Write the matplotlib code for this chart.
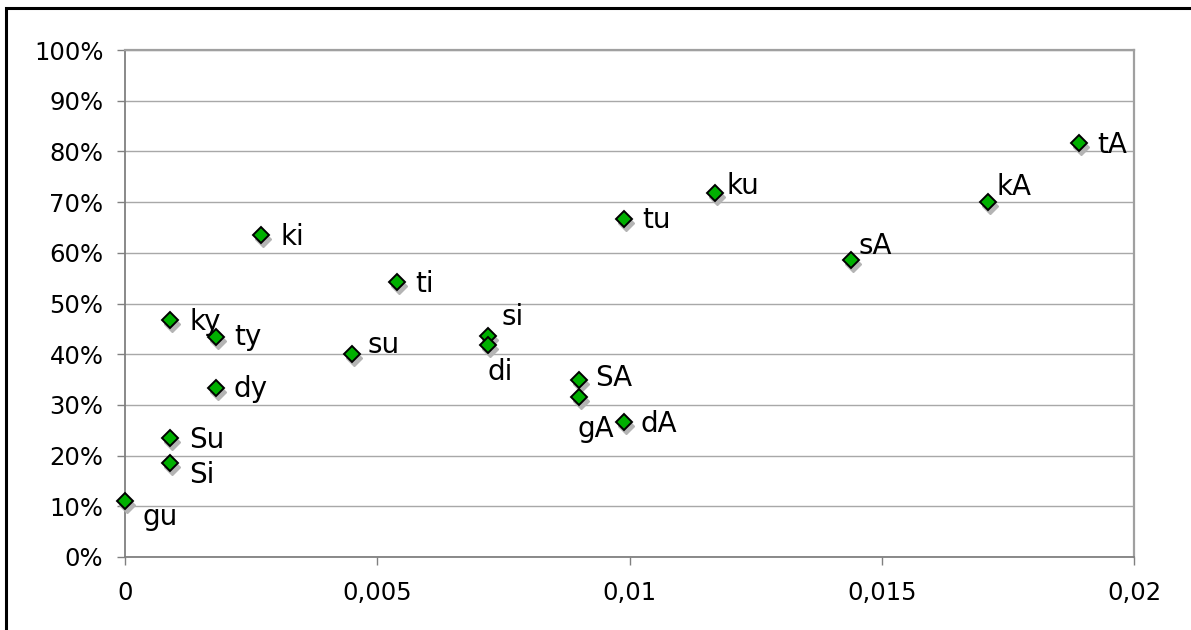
import matplotlib

matplotlib.use("Agg")
import matplotlib.pyplot as plt
from matplotlib.patches import Rectangle
from matplotlib.transforms import offset_copy

# values
labels = ["gu", "Si", "Su", "ky", "ty", "dy", "ki", "su", "ti", "si",
          "di", "SA", "gA", "dA", "tu", "ku", "sA", "kA", "tA"]
x_vals = [0.0, 0.0009, 0.0009, 0.0009, 0.0018, 0.0018, 0.0027, 0.0045,
          0.0054, 0.0072, 0.0072, 0.0090, 0.0090, 0.0099, 0.0099,
          0.0117, 0.0144, 0.0171, 0.0189]
y_vals = [11.0, 18.5, 23.5, 46.7, 43.4, 33.4, 63.5, 40.0, 54.3, 43.5,
          41.8, 35.0, 31.6, 26.7, 66.7, 71.7, 58.6, 70.1, 81.6]

x_ticks = [0, 0.005, 0.01, 0.015, 0.02]
x_tick_labels = ["0", "0,005", "0,01", "0,015", "0,02"]
y_ticks = list(range(0, 101, 10))
y_tick_labels = [f"{v}%" for v in y_ticks]

# label offsets from the marker in pixels (right, down)
label_offsets = {
    "gu": (18, 24), "Si": (19, 20), "Su": (19, 10), "ky": (19, 10),
    "ty": (18, 8), "dy": (18, 9), "ki": (19, 10), "su": (15, -1),
    "ti": (18, 10), "si": (13, -11), "di": (-1, 35), "SA": (16, 6),
    "gA": (-2, 40), "dA": (16, 10), "tu": (18, 9), "ku": (11, 1),
    "sA": (7, -6), "kA": (9, -7), "tA": (19, 10),
}

fig = plt.figure(figsize=(11.91, 6.30), dpi=100)
ax = fig.add_axes([125 / 1191, 1 - 557 / 630, (1134 - 125) / 1191, (557 - 50) / 630])

shadow = offset_copy(ax.transData, fig=fig, x=2, y=-4, units="dots")
ax.plot(x_vals, y_vals, linestyle="none", marker="D", markersize=8.5,
        color="#b4b4b4", markeredgecolor="#b4b4b4", transform=shadow,
        zorder=3, clip_on=False)
ax.plot(x_vals, y_vals, linestyle="none", marker="D", markersize=8.5,
        color="#00b000", markeredgecolor="black", markeredgewidth=1.4,
        zorder=4, clip_on=False)

for name, x, y in zip(labels, x_vals, y_vals):
    dx, dy = label_offsets[name]
    ax.annotate(name, (x, y), xytext=(dx, -dy), textcoords="offset pixels",
                ha="left", va="baseline", fontsize=20, color="black", zorder=5)

ax.set_xlim(0, 0.02)
ax.set_ylim(0, 100)
ax.set_xticks(x_ticks)
ax.set_xticklabels(x_tick_labels)
ax.set_yticks(y_ticks)
ax.set_yticklabels(y_tick_labels)
ax.tick_params(axis="both", direction="out", length=5.5, width=1,
               color="#808080", labelsize=17.5, labelcolor="black")
ax.tick_params(axis="x", pad=12)
ax.tick_params(axis="y", pad=10)

ax.yaxis.grid(True, color="#a8a8a8", linewidth=1.0)
ax.set_axisbelow(True)
for side in ["left", "bottom"]:
    ax.spines[side].set_color("#808080")
    ax.spines[side].set_linewidth(1.3)
for side in ["top", "right"]:
    ax.spines[side].set_color("#a0a0a0")
    ax.spines[side].set_linewidth(1.6)

# outer chart frame
fig.patches.append(Rectangle((6 / 1191, -0.1), 1.2, 1 - 8 / 630 + 0.1,
                             transform=fig.transFigure, fill=False,
                             edgecolor="black", linewidth=2.2))

fig.savefig("out.png", dpi=100)
